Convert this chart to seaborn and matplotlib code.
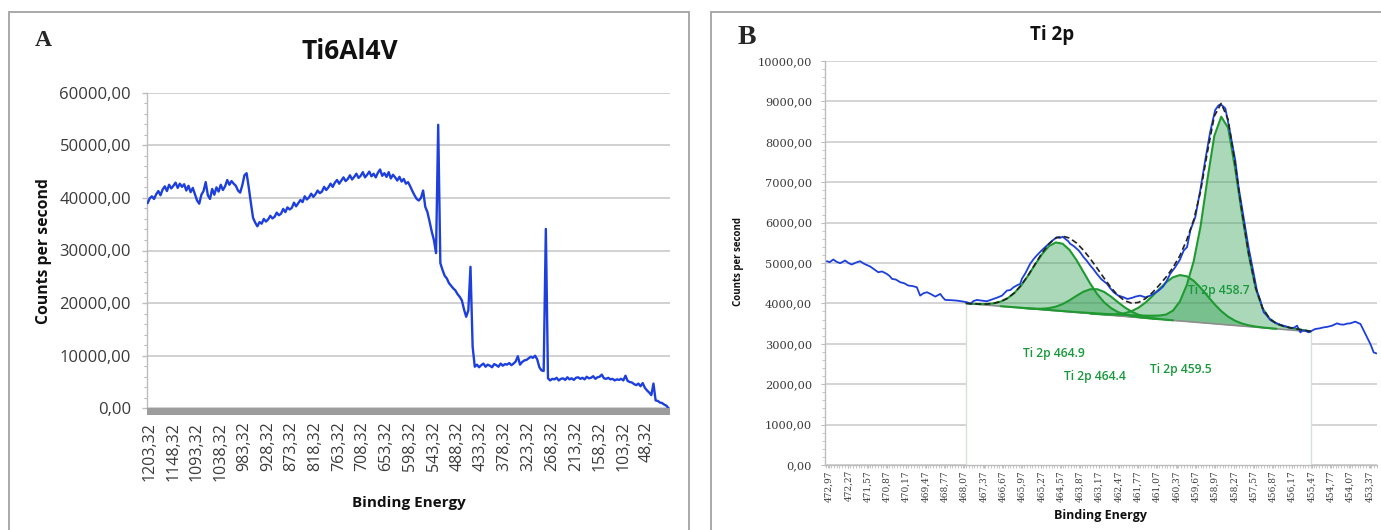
import numpy as np
import pandas as pd
import matplotlib
matplotlib.use("Agg")
import matplotlib.pyplot as plt
import seaborn as sns
from matplotlib.patches import Rectangle
from matplotlib.ticker import MultipleLocator

# ---------------- Panel A : survey spectrum ----------------
survey_start_be = 1208      # first binding energy of the survey grid (eV)
survey_step_be = -5         # grid step (eV)
survey_counts = [
    39000, 39900, 40300, 39800, 40700, 41300, 40500, 41600, 42200, 41300,
    42500, 41800, 42300, 42900, 41900, 42700, 42100, 42600, 41400, 42300,
    41100, 41900, 40700, 39500, 38900, 40600, 41300, 43000, 40500, 39800,
    41700, 40600, 42000, 41200, 42500, 41500, 42200, 43400, 42500, 43200,
    42700, 42300, 41400, 41000, 42400, 44300, 44700, 42000, 39000, 36200,
    35300, 34600, 35400, 35100, 36000, 35500, 35900, 36600, 36100, 36400,
    37200, 36700, 37000, 37900, 37300, 38200, 37800, 38100, 39100, 38400,
    39000, 39600, 39200, 40300, 39700, 40100, 40800, 40200, 40700, 41400,
    40900, 41200, 42100, 41500, 42000, 42700, 42100, 42900, 43400, 42700,
    43300, 43900, 43200, 43600, 44300, 43500, 44000, 44600, 43800, 44200,
    44900, 43900, 44400, 45000, 44100, 44600, 43900, 44800, 45400, 44200,
    44700, 44000, 44900, 43700, 44400, 43900, 43300, 44000, 43100, 43600,
    42700, 43000, 42200, 41300, 40500, 39800, 39500, 40000, 41400, 38300,
    37300, 35500, 33600, 32000, 29500, 53900, 27600, 26300, 25200, 24700,
    23800, 23300, 22800, 22400, 21700, 21200, 20500, 18800, 17400, 18600,
    26900, 11700, 7900, 8300, 7800, 8200, 8500, 7900, 8300, 8100,
    7800, 8400, 8200, 7900, 8500, 8100, 8400, 8300, 8600, 8200,
    8500, 8900, 9900, 8300, 8800, 9100, 9200, 9500, 9800, 9600,
    10000, 9300, 7800, 7200, 7100, 34100, 5700, 5300, 5600, 5500,
    5800, 5300, 5600, 5700, 5400, 5900, 5500, 5700, 5400, 5800,
    5900, 5600, 5800, 5500, 6000, 5700, 5800, 6100, 5600, 5900,
    6000, 6400, 5700, 5600, 5800, 5500, 5600, 5300, 5500, 5400,
    5600, 5300, 6200, 5200, 5000, 4900, 4600, 4400, 4700, 4200,
    4800, 3900, 3400, 3000, 2500, 4700, 1500, 1400, 1100, 1000,
    700, 500, 0,
]
survey_xticks = [1203.32, 1148.32, 1093.32, 1038.32, 983.32, 928.32, 873.32,
                 818.32, 763.32, 708.32, 653.32, 598.32, 543.32, 488.32,
                 433.32, 378.32, 323.32, 268.32, 213.32, 158.32, 103.32, 48.32]
survey_xticklabels = ["1203,32", "1148,32", "1093,32", "1038,32", "983,32",
                      "928,32", "873,32", "818,32", "763,32", "708,32",
                      "653,32", "598,32", "543,32", "488,32", "433,32",
                      "378,32", "323,32", "268,32", "213,32", "158,32",
                      "103,32", "48,32"]
survey_yticks = [0, 10000, 20000, 30000, 40000, 50000, 60000]
survey_yticklabels = ["0,00", "10000,00", "20000,00", "30000,00",
                      "40000,00", "50000,00", "60000,00"]

# ---------------- Panel B : Ti 2p high resolution ----------------
ti_be = [473.05, 472.95, 472.82, 472.70, 472.57, 472.45, 472.39, 472.27, 472.15, 472.00,
         471.85, 471.70, 471.48, 471.35, 471.19, 471.05, 470.88, 470.78, 470.69, 470.55,
         470.39, 470.25, 470.10, 469.95, 469.79, 469.67, 469.55, 469.42, 469.28, 469.12,
         468.94, 468.85, 468.76, 468.55, 468.34, 468.15, 467.97, 467.85, 467.73, 467.61,
         467.45, 467.25, 467.10, 467.01, 466.85, 466.70, 466.52, 466.40, 466.28, 466.15,
         466.04, 465.98, 465.85, 465.68, 465.55, 465.44, 465.25, 465.07, 464.90, 464.71,
         464.60, 464.50, 464.41, 464.30, 464.23, 464.10, 463.92, 463.85, 463.74, 463.62,
         463.50, 463.40, 463.26, 463.10, 462.89, 462.78, 462.65, 462.50, 462.29, 462.15,
         461.99, 461.85, 461.69, 461.50, 461.32, 461.15, 461.02, 460.85, 460.72, 460.60,
         460.42, 460.25, 460.11, 459.99, 459.87, 459.69, 459.51, 459.33, 459.15, 458.97,
         458.85, 458.78, 458.70, 458.60, 458.42, 458.24, 458.12, 457.94, 457.76, 457.57,
         457.45, 457.33, 457.21, 457.09, 456.97, 456.85, 456.73, 456.60, 456.49, 456.35,
         456.24, 456.10, 456.00, 455.88, 455.79, 455.70, 455.58, 455.45, 455.34, 455.20,
         455.03, 454.90, 454.73, 454.55, 454.43, 454.31, 454.18, 454.07, 453.89, 453.80,
         453.70, 453.52, 453.34, 453.22, 453.12]
ti_counts = [5045, 5020, 5087, 5030, 4995, 5040, 5062, 5000, 4963, 5010,
             5045, 4980, 4913, 4850, 4772, 4790, 4731, 4680, 4607, 4590,
             4524, 4500, 4442, 4430, 4400, 4193, 4250, 4276, 4230, 4169,
             4235, 4150, 4086, 4080, 4069, 4050, 4028, 3988, 4060, 4086,
             4070, 4053, 4090, 4111, 4150, 4193, 4318, 4330, 4400, 4450,
             4483, 4607, 4750, 4980, 5100, 5186, 5320, 5434, 5540, 5640,
             5620, 5650, 5600, 5540, 5476, 5420, 5310, 5250, 5144, 5050,
             4938, 4860, 4732, 4600, 4484, 4380, 4276, 4200, 4151, 4110,
             4136, 4170, 4193, 4150, 4193, 4260, 4318, 4420, 4566, 4732,
             4896, 5080, 5310, 5392, 5806, 6137, 6799, 7543, 8246, 8784,
             8900, 8925, 8890, 8826, 8205, 7543, 6882, 6137, 5392, 4732,
             4300, 4069, 3780, 3697, 3590, 3540, 3506, 3470, 3449, 3420,
             3392, 3400, 3449, 3283, 3330, 3325, 3283, 3330, 3367, 3380,
             3407, 3420, 3449, 3506, 3480, 3474, 3500, 3506, 3548, 3520,
             3491, 3243, 2995, 2787, 2762]

fit_be = [468.00, 467.75, 467.50, 467.25, 467.00, 466.75, 466.50, 466.25, 466.00, 465.75,
          465.50, 465.25, 465.00, 464.75, 464.50, 464.25, 464.00, 463.75, 463.50, 463.25,
          463.00, 462.75, 462.50, 462.25, 462.00, 461.75, 461.50, 461.25, 461.00, 460.75,
          460.50, 460.25, 460.00, 459.75, 459.50, 459.25, 459.00, 458.75, 458.50, 458.25,
          458.00, 457.75, 457.50, 457.25, 457.00, 456.75, 456.50, 456.25, 456.00, 455.75,
          455.50]
fit_background = [4000, 3986, 3972, 3958, 3944, 3930, 3916, 3902, 3888, 3874,
                  3860, 3846, 3832, 3818, 3804, 3790, 3776, 3762, 3748, 3734,
                  3720, 3706, 3692, 3678, 3664, 3650, 3636, 3622, 3608, 3594,
                  3580, 3566, 3552, 3538, 3524, 3510, 3496, 3482, 3468, 3454,
                  3440, 3426, 3412, 3398, 3384, 3370, 3356, 3342, 3328, 3314,
                  3300]
# component intensities above the background
peak_464_9 = [2, 5, 12, 27, 58, 114, 210, 357, 561, 817,
              1100, 1371, 1583, 1691, 1673, 1532, 1299, 1020, 741, 498,
              310, 179, 95, 47, 22, 9, 4, 2, 1, 0,
              0, 0, 0, 0, 0, 0, 0, 0, 0, 0,
              0, 0, 0, 0, 0, 0, 0, 0, 0, 0, 0]
peak_464_4 = [0, 0, 0, 0, 0, 0, 0, 0, 1, 3,
              9, 23, 50, 101, 180, 287, 411, 526, 602, 617,
              566, 464, 341, 224, 132, 69, 33, 14, 5, 2,
              1, 0, 0, 0, 0, 0, 0, 0, 0, 0,
              0, 0, 0, 0, 0, 0, 0, 0, 0, 0, 0]
peak_459_5 = [0, 0, 0, 0, 0, 0, 0, 0, 0, 0,
              0, 0, 0, 0, 0, 0, 0, 0, 1, 3,
              8, 19, 40, 79, 144, 244, 383, 555, 745, 926,
              1066, 1135, 1120, 1022, 864, 676, 490, 328, 204, 117,
              62, 31, 14, 6, 2, 1, 0, 0, 0, 0, 0]
peak_458_7 = [0, 0, 0, 0, 0, 1, 2, 3, 4, 5,
              5, 6, 6, 7, 7, 8, 10, 12, 15, 18,
              22, 26, 31, 37, 44, 52, 61, 73, 91, 130,
              240, 480, 900, 1500, 2380, 3560, 4650, 5140, 4880, 3900,
              2780, 1760, 960, 480, 240, 130, 80, 55, 38, 22, 8]
peak_labels = ["Ti 2p 464.9", "Ti 2p 464.4", "Ti 2p 459.5", "Ti 2p 458.7"]
peak_label_pos = [(464.81, 2750), (463.32, 2185), (460.23, 2376), (458.82, 4307)]

ti_xticks = [472.97, 472.27, 471.57, 470.87, 470.17, 469.47, 468.77, 468.07,
             467.37, 466.67, 465.97, 465.27, 464.57, 463.87, 463.17, 462.47,
             461.77, 461.07, 460.37, 459.67, 458.97, 458.27, 457.57, 456.87,
             456.17, 455.47, 454.77, 454.07, 453.37]
ti_xticklabels = ["472,97", "472,27", "471,57", "470,87", "470,17", "469,47",
                  "468,77", "468,07", "467,37", "466,67", "465,97", "465,27",
                  "464,57", "463,87", "463,17", "462,47", "461,77", "461,07",
                  "460,37", "459,67", "458,97", "458,27", "457,57", "456,87",
                  "456,17", "455,47", "454,77", "454,07", "453,37"]
ti_yticks = [0, 1000, 2000, 3000, 4000, 5000, 6000, 7000, 8000, 9000, 10000]
ti_yticklabels = ["0,00", "1000,00", "2000,00", "3000,00", "4000,00", "5000,00",
                  "6000,00", "7000,00", "8000,00", "9000,00", "10000,00"]

# ---------------- style ----------------
sns.set_theme(style="white")
plt.rcParams["font.family"] = ["Open Sans", "DejaVu Sans"]

W, H = 1381, 530
fig = plt.figure(figsize=(W / 100, H / 100), dpi=100)
fig.patch.set_facecolor("white")

def fy(py):
    return 1 - py / H

BLUE = "#1d3fdc"
GRID = "#c9c9c9"
AXC = "#bdbdbd"
TXT = "#3a3a3a"
GREEN_LINE = "#1f9a30"
GREEN_FILL = "#2e9e50"
LABEL_GREEN = "#17993a"

# panel frames
fig.add_artist(Rectangle((8.5 / W, fy(545)), (689 - 8.5) / W, (545 - 12) / H,
                         transform=fig.transFigure, fill=False, ec="#a9a9a9", lw=1.4))
fig.add_artist(Rectangle((710.5 / W, fy(545)), (1400 - 710.5) / W, (545 - 12) / H,
                         transform=fig.transFigure, fill=False, ec="#a9a9a9", lw=1.4))

# ---------------- Panel A ----------------
axA = fig.add_axes([147.4 / W, fy(408.3), 522.3 / W, 315.6 / H])
survey_be = survey_start_be + survey_step_be * np.arange(len(survey_counts))
dfA = pd.DataFrame({"be": survey_be, "cps": survey_counts})
sns.lineplot(data=dfA, x="be", y="cps", ax=axA, color=BLUE, lw=1.7,
             sort=False, estimator=None, zorder=3)
axA.set_xlim(1208.4, -4.7)
axA.set_ylim(0, 60000)
axA.set_xticks(survey_xticks, survey_xticklabels)
axA.set_yticks(survey_yticks, survey_yticklabels)
axA.yaxis.set_minor_locator(MultipleLocator(2000))
axA.set_xlabel("")
axA.set_ylabel("")
axA.set_axisbelow(True)
axA.grid(axis="y", color=GRID, lw=1.2)
axA.grid(axis="x", visible=False)
for s in ["top", "right", "bottom"]:
    axA.spines[s].set_visible(False)
axA.spines["left"].set_color(AXC)
axA.spines["left"].set_linewidth(1.0)
axA.tick_params(axis="x", length=0, pad=9.6, labelsize=11.5, labelrotation=90,
                labelcolor=TXT)
axA.tick_params(axis="y", which="major", length=3.6, width=1, color=AXC, pad=8.2,
                labelsize=12, labelcolor=TXT, left=True)
axA.tick_params(axis="y", which="minor", length=2.5, width=0.8, color=AXC, left=True)
axA.add_patch(Rectangle((0, -7 / 315.6), 1, 7 / 315.6, transform=axA.transAxes,
                        facecolor="#9c9c9c", lw=0, clip_on=False, zorder=4))

fig.text(43 / W, fy(40), "A", family="Liberation Serif", weight="bold", size=17,
         ha="center", va="center")
fig.text(350 / W, fy(51.5), "Ti6Al4V", weight="bold", size=19,
         ha="center", va="center", color="#111111")
fig.text(44 / W, fy(251.5), "Counts per second", weight="bold", size=11.3,
         rotation=90, ha="center", va="center", color="#111111")
fig.text(409 / W, fy(503), "Binding Energy", weight="bold", size=11,
         ha="center", va="center", color="#111111")

# ---------------- Panel B ----------------
axB = fig.add_axes([825 / W, fy(465), 552 / W, 404 / H])
bg = np.array(fit_background, dtype=float)
fbe = np.array(fit_be)
comps = [np.array(c, dtype=float) for c in (peak_464_9, peak_464_4, peak_459_5, peak_458_7)]
envelope = bg + sum(comps)

axB.fill_between(fbe, 0, bg, color="white", lw=0, zorder=1.2)
axB.plot([fbe[0], fbe[0]], [0, bg[0]], color="#d3e4d6", lw=1.0, zorder=1.3)
axB.plot([fbe[-1], fbe[-1]], [0, bg[-1]], color="#d3e4d6", lw=1.0, zorder=1.3)
for c in comps:
    axB.fill_between(fbe, bg, bg + c, color=GREEN_FILL, alpha=0.40, lw=0, zorder=2)
sns.lineplot(x=fbe, y=bg, ax=axB, color="#8e8e8e", lw=1.2, sort=False,
             estimator=None, zorder=2.5)
for c in comps:
    m = c > 0
    sns.lineplot(x=fbe[m], y=(bg + c)[m], ax=axB, color=GREEN_LINE, lw=1.5,
                 sort=False, estimator=None, zorder=3)
dfB = pd.DataFrame({"be": ti_be, "cps": ti_counts})
sns.lineplot(data=dfB, x="be", y="cps", ax=axB, color=BLUE, lw=1.3,
             sort=False, estimator=None, zorder=4)
axB.plot(fbe, envelope, color="#222222", lw=1.2, ls=(0, (3.5, 2)), zorder=5)

for txt, (xx, yy) in zip(peak_labels, peak_label_pos):
    axB.text(xx, yy, txt, color=LABEL_GREEN, size=8.7, weight="semibold",
             ha="center", va="center", zorder=6)

axB.set_xlim(473.12, 453.10)
axB.set_ylim(0, 10000)
axB.set_xticks(ti_xticks, ti_xticklabels)
axB.set_yticks(ti_yticks, ti_yticklabels)
axB.xaxis.set_minor_locator(MultipleLocator(0.1))
axB.yaxis.set_minor_locator(MultipleLocator(200))
axB.set_xlabel("")
axB.set_ylabel("")
axB.set_axisbelow(True)
axB.grid(axis="y", color=GRID, lw=1.1)
axB.grid(axis="x", visible=False)
for s in ["top", "right"]:
    axB.spines[s].set_visible(False)
for s in ["left", "bottom"]:
    axB.spines[s].set_color(AXC)
    axB.spines[s].set_linewidth(1.0)
axB.tick_params(axis="x", which="major", length=2.2, width=0.8, color=AXC, pad=1.4,
                labelsize=6.5, labelrotation=90, labelcolor=TXT, bottom=True)
axB.tick_params(axis="x", which="minor", length=2.2, width=0.6, color=AXC, bottom=True)
axB.tick_params(axis="y", which="major", length=2.9, width=0.8, color=AXC, pad=6.5,
                labelsize=8.2, labelcolor=TXT, left=True)
axB.tick_params(axis="y", which="minor", length=2.0, width=0.6, color=AXC, left=True)
for lab in axB.get_xticklabels() + axB.get_yticklabels():
    lab.set_family("DejaVu Serif")

fig.text(747 / W, fy(38), "B", family="Liberation Serif", weight="bold", size=20,
         ha="center", va="center")
fig.text(1052 / W, fy(35), "Ti 2p", weight="bold", size=13.5,
         ha="center", va="center", color="#111111")
fig.text(739 / W, fy(262), "Counts per second", weight="bold", size=7,
         rotation=90, ha="center", va="center", color="#111111")
fig.text(1100 / W, fy(515), "Binding Energy", weight="bold", size=9,
         ha="center", va="center", color="#111111")

fig.savefig("out.png", dpi=100, facecolor="white")
